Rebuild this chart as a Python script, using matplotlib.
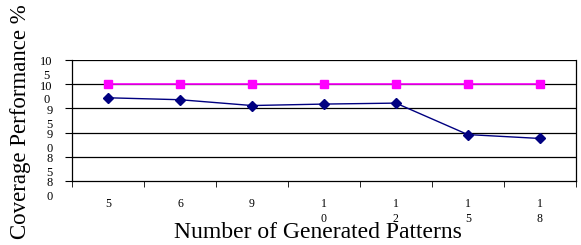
import numpy as np
import matplotlib.pyplot as plt
from matplotlib.transforms import ScaledTranslation

categories = ["5", "6", "9", "10", "12", "15", "18"]
target = [100, 100, 100, 100, 100, 100, 100]
coverage = [97.2, 96.8, 95.6, 95.9, 96.1, 89.6, 88.8]
ytick_values = [80, 85, 90, 95, 100, 105]


def wrap(label):
    # narrow category slots: two-digit labels get broken one digit per line
    if len(label) < 2:
        return label
    return label[:1] + "\n" + label[1:]


def wrap_y(v):
    s = str(v)
    return s[:-1] + "\n" + s[-1]


plt.rcParams["font.family"] = ["Liberation Serif", "DejaVu Serif"]

fig = plt.figure(figsize=(5.81, 2.45), dpi=100)
ax = fig.add_axes([0.124, 0.261, 0.867, 0.494])

x = np.arange(len(categories))
ax.plot(x, target, color="#FF00FF", marker="s", markersize=6, linewidth=1.2, zorder=3)
ax.plot(x, coverage, color="#000080", marker="D", markersize=5, linewidth=1.0, zorder=3)

ax.set_xlim(-0.5, len(categories) - 0.5)
ax.set_ylim(80, 105)

for v in ytick_values[1:]:
    ax.axhline(v, color="#000000", linewidth=0.9, zorder=1)

ax.set_yticks(ytick_values)
ax.set_yticklabels([wrap_y(v) for v in ytick_values], fontsize=9)
ax.set_xticks(x)
ax.set_xticklabels([wrap(c) for c in categories], fontsize=8.5, va="top", linespacing=1.35)
ax.set_xticks(np.arange(len(categories) + 1) - 0.5, minor=True)
ax.tick_params(axis="x", which="major", length=0, pad=12)
ax.tick_params(axis="x", which="minor", length=4, direction="out")
ax.tick_params(axis="y", length=5, direction="out", pad=9)

off = ScaledTranslation(0, -4.9 / 72, fig.dpi_scale_trans)
for lab in ax.get_yticklabels():
    lab.set_transform(lab.get_transform() + off)
    lab.set_linespacing(1.2)
    lab.set_multialignment("center")

ax.spines["top"].set_visible(False)
for s in ["left", "bottom", "right"]:
    ax.spines[s].set_color("#000000")
    ax.spines[s].set_linewidth(0.9)

fig.text(0.547, 0.01, "Number of Generated Patterns", fontsize=17, ha="center", va="bottom")
fig.text(0.018, 0.505, "Coverage Performance %", fontsize=16.5, rotation=90, ha="left", va="center")

fig.savefig("out.png", dpi=100)
